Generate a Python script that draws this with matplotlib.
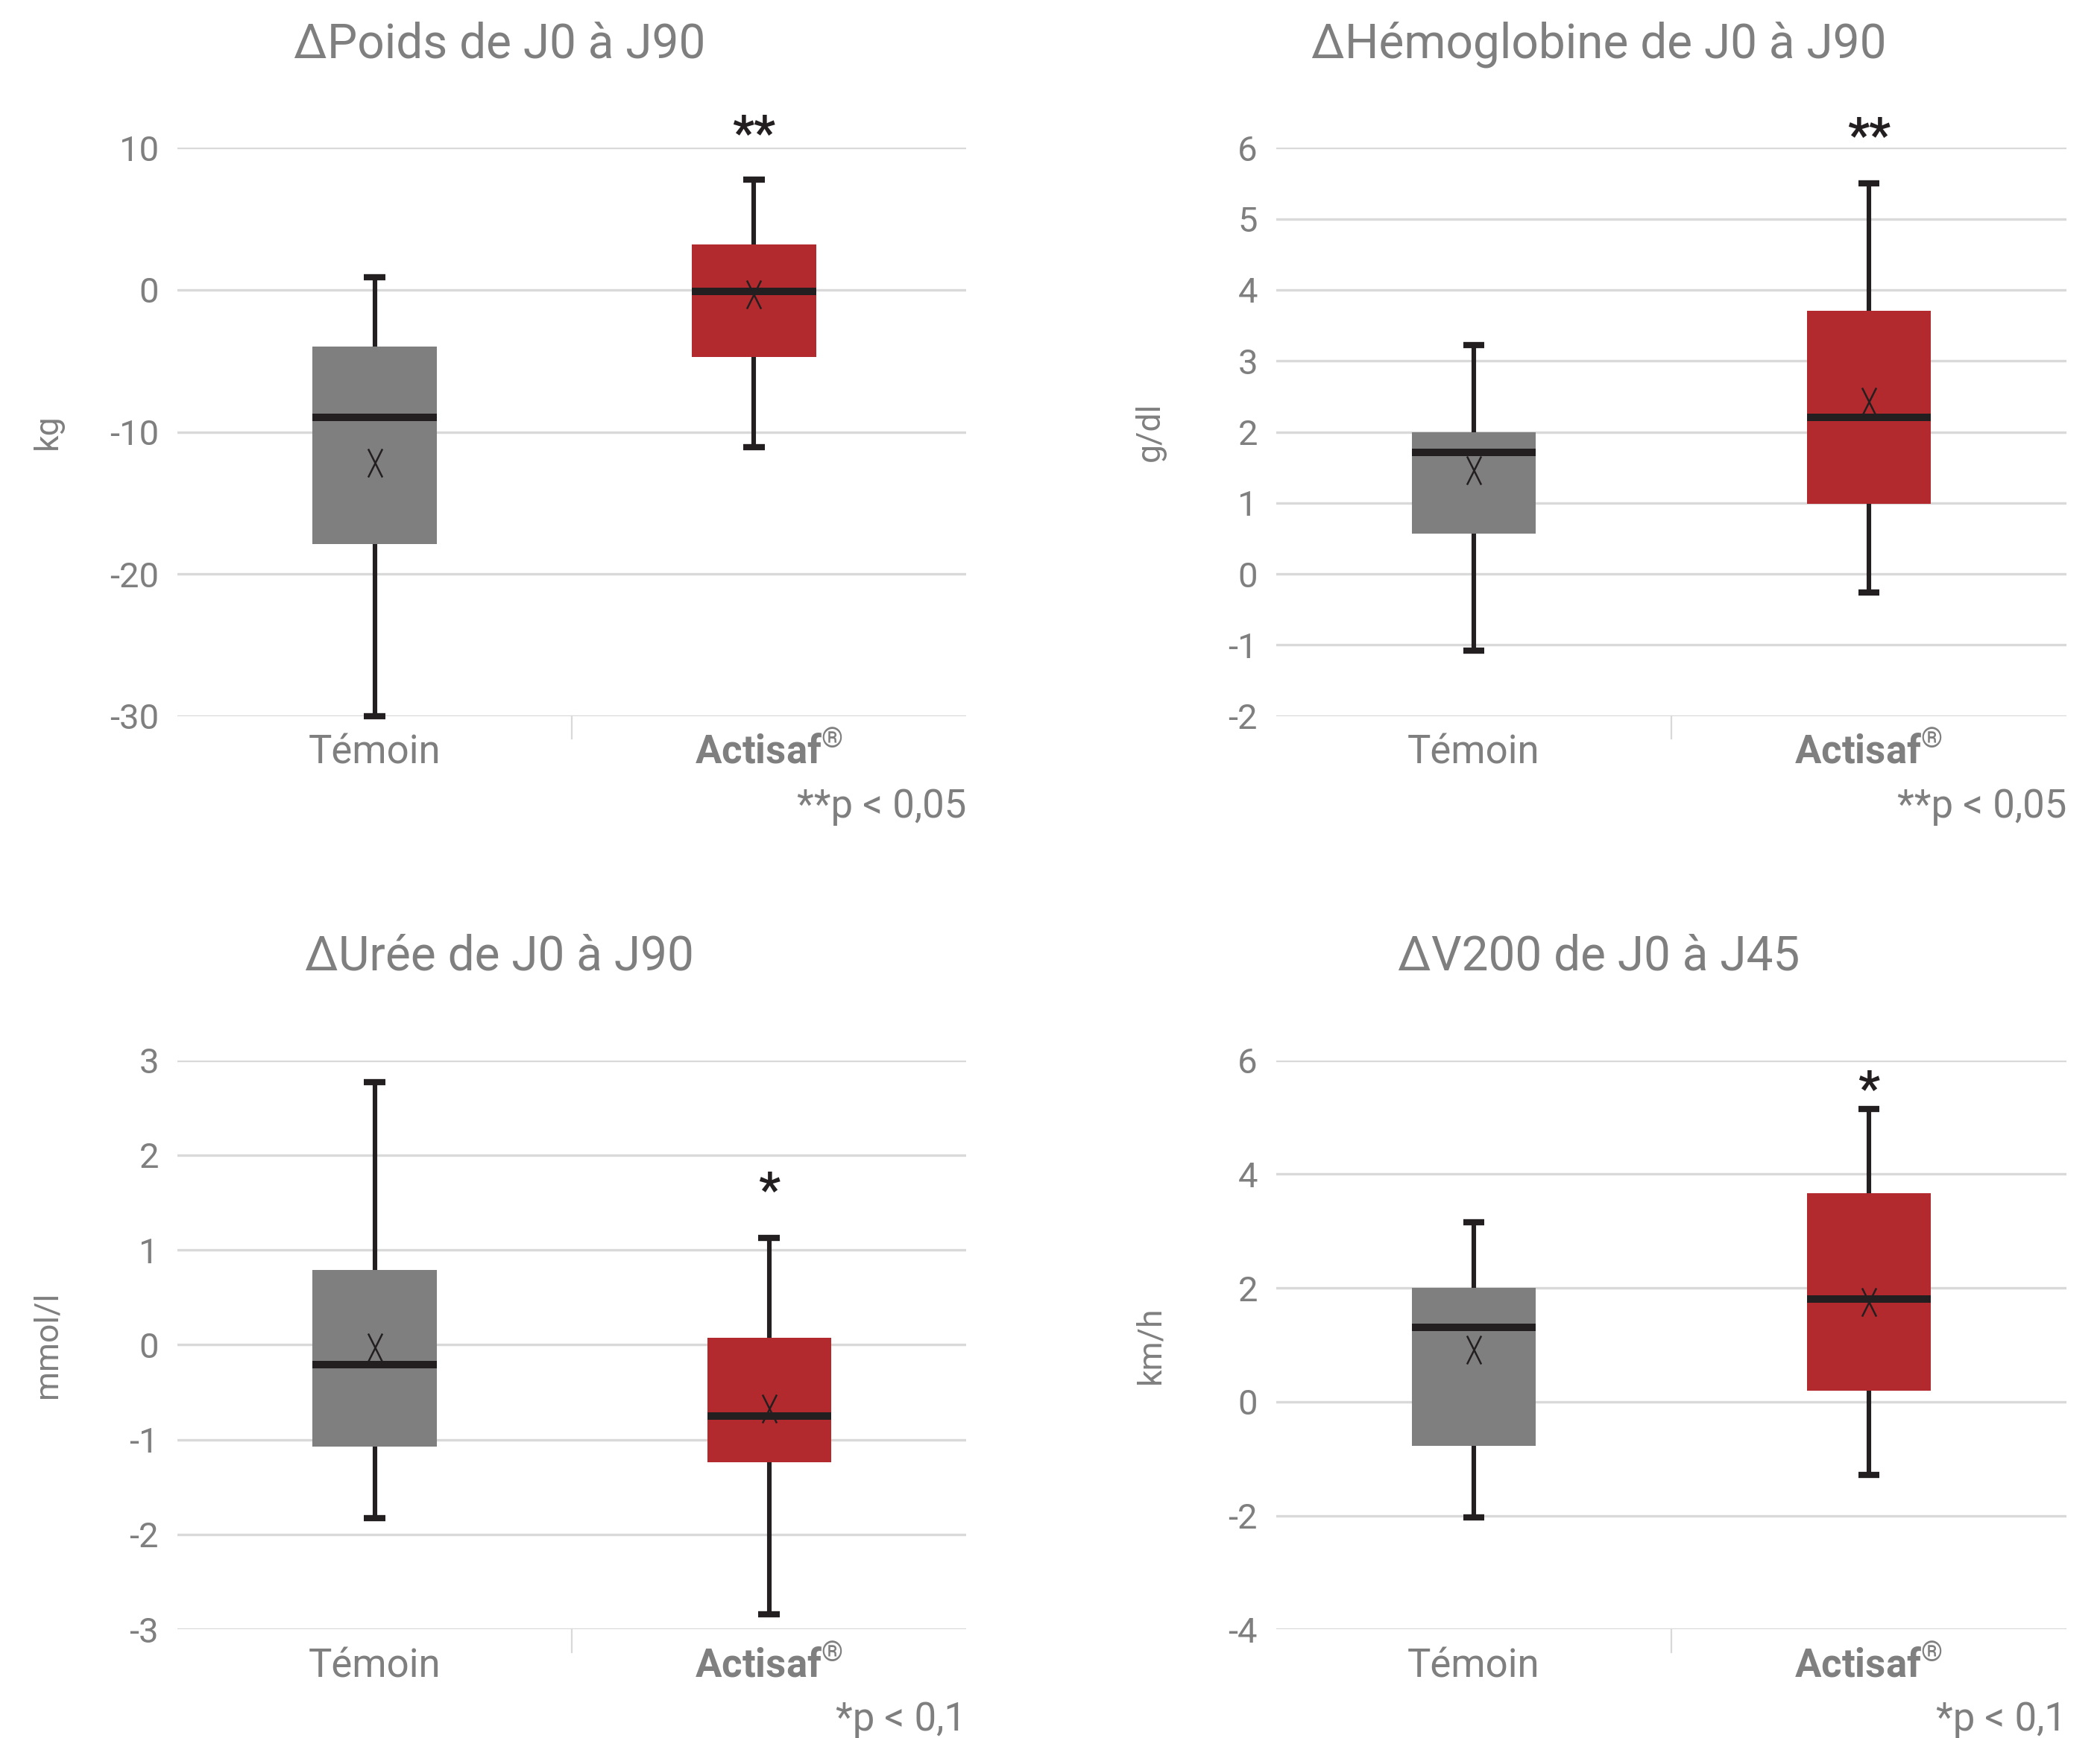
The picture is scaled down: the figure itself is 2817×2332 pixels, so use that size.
import numpy as np
import matplotlib.pyplot as plt
from matplotlib.path import Path
from matplotlib.transforms import blended_transform_factory

plt.rcParams['font.family'] = ['Roboto', 'DejaVu Sans']
plt.rcParams['axes.unicode_minus'] = False
plt.rcParams['mathtext.fontset'] = 'custom'
plt.rcParams['mathtext.rm'] = 'Roboto'
plt.rcParams['mathtext.bf'] = 'Roboto:bold'

# ==============================
# DATA
# ==============================
groups = ["Témoin", r"$\mathbf{Actisaf}^{\mathrm{®}}$"]
titles = ["ΔPoids de J0 à J90", "ΔHémoglobine de J0 à J90",
          "ΔUrée de J0 à J90", "ΔV200 de J0 à J45"]
units = ["kg", "g/dl", "mmol/l", "km/h"]

# one pair [Témoin, Actisaf] per panel
whisk_lo = [[-30.0, -11.1], [-1.08, -0.26], [-1.83, -2.84], [-2.03, -1.28]]
q1 = [[-17.9, -4.74], [0.57, 0.99], [-1.07, -1.24], [-0.78, 0.19]]
medians = [[-9.0, -0.1], [1.71, 2.20], [-0.21, -0.75], [1.31, 1.80]]
q3 = [[-4.0, 3.2], [2.0, 3.71], [0.79, 0.075], [2.0, 3.66]]
whisk_hi = [[0.9, 7.75], [3.22, 5.5], [2.77, 1.13], [3.15, 5.14]]
means = [[-12.2, -0.3], [1.46, 2.43], [-0.03, -0.67], [0.91, 1.75]]

yticks = [[-30, -20, -10, 0, 10],
          [-2, -1, 0, 1, 2, 3, 4, 5, 6],
          [-3, -2, -1, 0, 1, 2, 3],
          [-4, -2, 0, 2, 4, 6]]

stars = ["**", "**", "*", "*"]
notes = ["**p < 0,05", "**p < 0,05", "*p < 0,1", "*p < 0,1"]

# ==============================
# STYLE
# ==============================
GREY_TXT = "#7f7f7f"
DARK = "#231f20"
GRID = "#d9d9d9"
box_colors = ["#7f7f80", "#b2292e"]

# tall thin "x" used for the mean
xmark = Path([(-0.5, -1), (0.5, 1), (-0.5, 1), (0.5, -1)],
             [Path.MOVETO, Path.LINETO, Path.MOVETO, Path.LINETO])

fig = plt.figure(figsize=(14.085, 11.66), dpi=200)

axes_pos = [[0.0845, 0.588, 0.3756, 0.327],
            [0.6077, 0.588, 0.3763, 0.327],
            [0.0845, 0.0625, 0.3756, 0.3275],
            [0.6077, 0.0625, 0.3763, 0.3275]]
box_pos = [[1, 1.962], [1, 2], [1, 2], [1, 2]]
star_y = [10.85, 6.13, 1.6, 5.45]
ylab_x = [-0.165, -0.159, -0.165, -0.159]

for k in range(4):
    ax = fig.add_axes(axes_pos[k])

    stats = []
    for g in range(2):
        stats.append(dict(med=medians[k][g], q1=q1[k][g], q3=q3[k][g],
                          whislo=whisk_lo[k][g], whishi=whisk_hi[k][g],
                          mean=means[k][g], fliers=[]))

    bp = ax.bxp(stats, positions=box_pos[k], widths=0.314, capwidths=0.054,
                patch_artist=True, showmeans=True, showfliers=False,
                manage_ticks=False,
                boxprops=dict(linewidth=0),
                whiskerprops=dict(color=DARK, linewidth=2.2, solid_capstyle='butt'),
                capprops=dict(color=DARK, linewidth=3.0, solid_capstyle='butt'),
                medianprops=dict(color=DARK, linewidth=3.6, solid_capstyle='butt'),
                meanprops=dict(marker=xmark, markersize=13.7, markerfacecolor='none',
                               markeredgecolor=DARK, markeredgewidth=0.9))
    for patch, c in zip(bp['boxes'], box_colors):
        patch.set_facecolor(c)
        patch.set_edgecolor('none')
    for key in ['boxes', 'whiskers', 'caps', 'medians', 'means']:
        for art in bp[key]:
            art.set_clip_on(False)

    ax.set_xlim(0.5, 2.5)
    ax.set_ylim(yticks[k][0], yticks[k][-1])
    ax.set_yticks(yticks[k])
    ax.grid(axis='y', color=GRID, linewidth=1.2)
    ax.set_axisbelow(True)
    for s in ax.spines.values():
        s.set_visible(False)

    ax.tick_params(axis='y', length=0, pad=9, labelsize=17, labelcolor=GREY_TXT)
    ax.set_xticks([1, 2])
    ax.set_xticklabels(groups)
    ax.tick_params(axis='x', length=0, pad=23, labelsize=19, labelcolor=GREY_TXT)
    for lbl in ax.get_xticklabels():
        lbl.set_verticalalignment('baseline')

    # small separator tick between the two groups
    trans = blended_transform_factory(ax.transData, ax.transAxes)
    ax.plot([1.5, 1.5], [0, -0.04], transform=trans, color=GRID,
            linewidth=0.8, clip_on=False)

    ax.text(0.408, 1.182, titles[k], transform=ax.transAxes, ha='center',
            va='center', fontsize=23, color=GREY_TXT)
    ax.text(ylab_x[k], 0.5, units[k], transform=ax.transAxes, rotation=90,
            ha='center', va='center', fontsize=16, color=GREY_TXT)
    ax.text(box_pos[k][1], star_y[k], stars[k], ha='center', va='center',
            fontsize=23, fontweight='bold', color=DARK)
    ax.text(1.0, -0.178, notes[k], transform=ax.transAxes, ha='right',
            va='baseline', fontsize=19, color=GREY_TXT)

fig.savefig("out.png", dpi=200, facecolor='white')
